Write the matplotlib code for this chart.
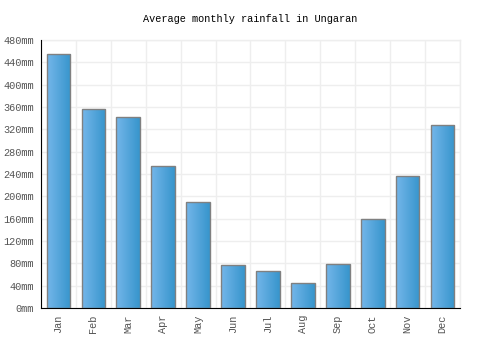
import matplotlib
matplotlib.use("Agg")
import matplotlib.pyplot as plt
import numpy as np

months = ["Jan", "Feb", "Mar", "Apr", "May", "Jun",
          "Jul", "Aug", "Sep", "Oct", "Nov", "Dec"]
rainfall = [455, 356, 342, 254, 190, 77, 66, 45, 79, 159, 236, 328]
yticks = list(range(0, 481, 40))

plt.rcParams['font.family'] = ['Liberation Mono', 'DejaVu Sans Mono']

fig = plt.figure(figsize=(5, 3.5), dpi=100)
ax = fig.add_axes([0.082, 0.12, 0.838, 0.766])

x = np.arange(len(months))
bars = ax.bar(x, rainfall, width=0.68, color="none", edgecolor="#808080",
              linewidth=1, zorder=3)

# horizontal gradient inside each bar
grad = np.linspace(0, 1, 64).reshape(1, -1)
cmap = matplotlib.colors.LinearSegmentedColormap.from_list(
    "rain", ["#74b6ea", "#3795cc"])
for b in bars:
    x0, y0 = b.get_x(), b.get_y()
    w, h = b.get_width(), b.get_height()
    im = ax.imshow(grad, cmap=cmap, aspect="auto",
                   extent=[x0, x0 + w, y0, y0 + h], zorder=2)
    im.set_clip_path(b)

ax.set_xlim(-0.5, len(months) - 0.5)
ax.set_ylim(0, 480)
ax.set_yticks(yticks)
ax.set_yticklabels([f"{v}mm" for v in yticks], color="#555555", fontsize=7.4)
ax.set_xticks(x)
ax.set_xticklabels(months, rotation=90, color="#555555", fontsize=7.4)
ax.set_xticks(np.arange(-0.5, len(months), 1), minor=True)
ax.tick_params(axis="both", length=0, pad=5)
ax.tick_params(which="minor", length=0)

ax.grid(True, axis="y", color="#eeeeee", linewidth=1, zorder=0)
ax.grid(True, axis="x", which="minor", color="#eeeeee", linewidth=1, zorder=0)
ax.set_axisbelow(True)

for s in ["top", "right"]:
    ax.spines[s].set_visible(False)
ax.spines["left"].set_color("black")
ax.spines["bottom"].set_color("black")
ax.plot([len(months) - 0.5] * 2, [0, 480], color="#eeeeee", lw=1, zorder=0,
        clip_on=False)
ax.plot([-0.5, len(months) - 0.5], [480, 480], color="#eeeeee", lw=1, zorder=0,
        clip_on=False)

fig.text(0.5, 0.946, "Average monthly rainfall in Ungaran", ha="center",
         va="center", fontsize=7.4)

fig.savefig("out.png", dpi=100)
